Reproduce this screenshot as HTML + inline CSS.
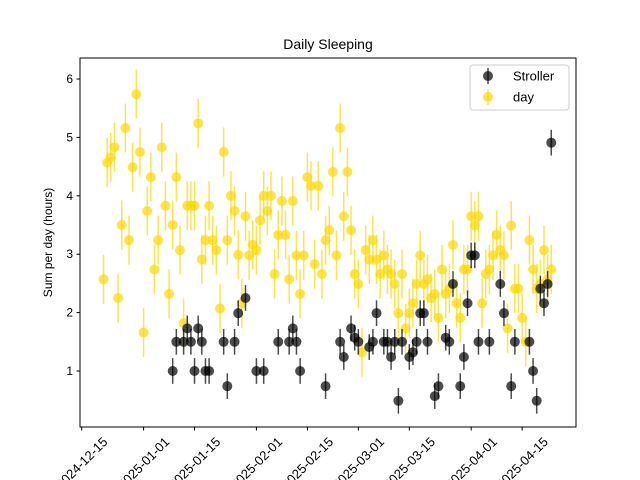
<!DOCTYPE html>
<html><head><meta charset="utf-8"><style>
body{margin:0;background:#fff}
svg{display:block;font-family:"Liberation Sans","DejaVu Sans",sans-serif}
</style></head><body>
<svg id="chart" width="640" height="480" viewBox="0 0 640 480" xmlns="http://www.w3.org/2000/svg">
<rect width="640" height="480" fill="#fff"/>
<text x="328" y="49" font-size="14" text-anchor="middle">Daily Sleeping</text>
<text transform="translate(52,242.5) rotate(-90)" font-size="12" text-anchor="middle">Sum per day (hours)</text>
<g id="marks"></g>
<g id="axes"></g>
<g>
<rect x="470" y="65" width="99" height="45" rx="3" fill="#fff" fill-opacity="0.8" stroke="#ccc"/>
<g>
<line x1="488" y1="68" x2="488" y2="84" stroke="#000" stroke-opacity="0.7" stroke-width="1.5"/>
<circle cx="488" cy="76" r="5" fill="#000" fill-opacity="0.7"/>
<text x="513" y="80.5" font-size="13">Stroller</text></g>
<g>
<line x1="488" y1="89" x2="488" y2="105" stroke="#FFD700" stroke-opacity="0.7" stroke-width="1.5"/>
<circle cx="488" cy="97" r="5" fill="#FFD700" fill-opacity="0.7"/>
<text x="513" y="101.5" font-size="13">day</text></g>
</g>
</svg>
<script>
// days since 2024-12-15
const strollerDays=[25,26,28,29,30,31,32,33,34,35,39,40,42,43,45,48,50,54,57,58,59,60,67,71,72,74,75,76,79,80,81,83,84,85,86,87,88,90,91,92,93,94,95,97,98,100,101,102,104,105,106,107,108,109,112,115,116,118,119,123,124,125,126,127,128,129];
const strollerValues=[1.0,1.5,1.5,1.73,1.5,1.0,1.73,1.5,1.0,1.0,1.5,0.74,1.5,1.99,2.25,1.0,1.0,1.5,1.5,1.73,1.5,1.0,0.74,1.5,1.24,1.73,1.57,1.5,1.41,1.5,1.99,1.5,1.5,1.24,1.5,0.49,1.5,1.24,1.32,1.5,1.99,1.99,1.5,0.57,0.74,1.57,1.5,2.49,0.74,1.24,2.16,2.98,2.98,1.5,1.5,2.49,1.99,0.74,1.5,1.5,1.0,0.49,2.41,2.16,2.49,4.91];
const dayDays=[6,7,8,9,10,11,12,13,14,15,16,17,18,19,20,21,22,23,24,25,26,27,28,29,30,31,32,33,34,35,36,37,38,39,40,41,42,43,44,45,46,47,48,49,50,51,52,53,54,55,56,57,58,59,60,61,62,63,64,65,66,67,68,69,70,71,72,73,74,75,76,77,78,79,80,81,82,83,84,85,86,87,88,89,90,91,92,93,94,95,96,97,98,99,100,101,102,103,104,105,106,107,108,109,110,111,112,113,114,115,116,117,118,119,120,121,122,123,124,125,126,127,128,129];
const dayValues=[2.57,4.57,4.66,4.83,2.25,3.5,5.16,3.24,4.49,5.74,4.75,1.66,3.74,4.32,2.74,3.24,4.83,3.83,2.32,3.5,4.32,3.07,1.82,3.83,3.83,3.83,5.24,2.91,3.24,3.83,3.24,3.07,2.07,4.75,3.24,4.0,3.74,2.99,2.16,3.65,2.98,3.16,3.07,3.58,4.0,3.74,4.0,2.66,3.33,3.91,3.33,2.57,3.91,2.98,2.32,2.98,4.32,4.17,2.83,4.17,2.66,3.24,3.41,4.41,2.98,5.16,3.65,4.41,3.41,2.66,2.49,1.32,3.07,2.91,3.24,2.91,2.66,2.98,2.74,2.66,2.49,1.99,2.66,1.73,1.99,2.16,2.49,2.98,2.49,2.57,2.25,2.32,1.91,2.74,2.32,2.41,3.16,2.16,1.91,2.74,2.74,3.65,3.49,3.65,2.16,2.66,2.74,2.98,3.33,3.07,2.98,1.73,3.49,2.41,2.41,1.91,1.5,3.24,2.74,2.41,2.49,3.07,2.57,2.74];
const strollerErr=0.22, dayErr=0.42;
const xTickDays=[0,17,31,48,62,76,90,107,121];
const xTickLabels=["2024-12-15","2025-01-01","2025-01-15","2025-02-01","2025-02-15","2025-03-01","2025-03-15","2025-04-01","2025-04-15"];
const yTicks=[1,2,3,4,5,6];

const L=80,R=576,T=58,B=427;
const x0=81.7,pxPerDay=3.64;
const X=d=>x0+d*pxPerDay;
const Y=v=>429.4-v*58.4;
const NS="http://www.w3.org/2000/svg";
const marks=document.getElementById('marks'),axes=document.getElementById('axes');
function mk(tag,attrs,parent){const e=document.createElementNS(NS,tag);for(const k in attrs)e.setAttribute(k,attrs[k]);parent.appendChild(e);return e;}

function series(days,vals,err,color,name){
  const g=mk('g',{},marks);
  
  
  days.forEach((d,i)=>{
    const p=mk('g',{},g);
    
    
    mk('line',{x1:X(d),x2:X(d),y1:Y(vals[i]-err),y2:Y(vals[i]+err),stroke:color,'stroke-opacity':0.7,'stroke-width':1.5},p);
    mk('circle',{cx:X(d),cy:Y(vals[i]),r:5,fill:color,'fill-opacity':0.7},p);
  });
}
series(dayDays,dayValues,dayErr,'#FFD700','day');
series(strollerDays,strollerValues,strollerErr,'#000000','stroller');

const frame=mk('rect',{x:L,y:T,width:R-L,height:B-T,fill:'none',stroke:'#000','stroke-width':1},axes);


yTicks.forEach(v=>{
  const y=Y(v);
  mk('line',{x1:L-3.5,x2:L,y1:y,y2:y,stroke:'#000'},axes);
  const t=mk('text',{x:L-7,y:y+4,'font-size':12,'text-anchor':'end'},axes);
  t.textContent=v;
  
  
});
xTickDays.forEach((d,i)=>{
  const x=X(d);
  mk('line',{x1:x,x2:x,y1:B,y2:B+3.5,stroke:'#000'},axes);
  const cy=463;
  const t=mk('text',{x:x,y:cy+4.5,'font-size':13,'text-anchor':'middle',transform:`rotate(-45 ${x} ${cy})`},axes);
  t.textContent=xTickLabels[i];
  
  
});
</script>
</body></html>
